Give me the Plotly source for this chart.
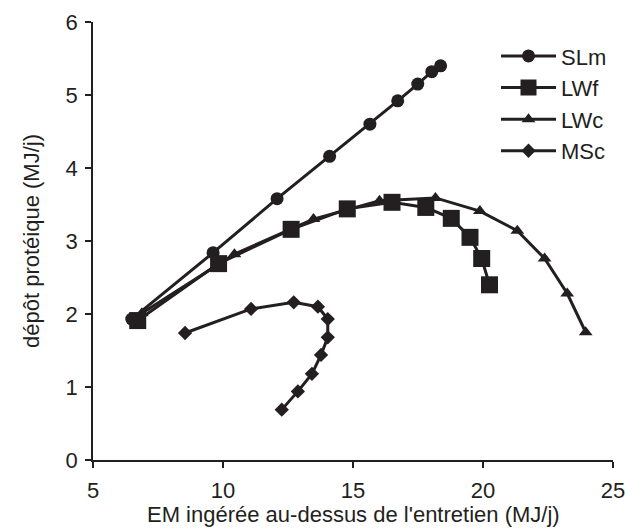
import plotly.graph_objects as go

# Data
slm_x = [6.49, 9.62, 12.08, 14.1, 15.65, 16.72, 17.49, 18.03, 18.37]
slm_y = [1.93, 2.84, 3.58, 4.16, 4.60, 4.92, 5.15, 5.32, 5.40]

lwf_x = [6.72, 9.83, 12.62, 14.78, 16.5, 17.8, 18.78, 19.5, 19.95, 20.25]
lwf_y = [1.91, 2.69, 3.16, 3.44, 3.53, 3.46, 3.31, 3.05, 2.76, 2.40]

lwc_x = [6.88, 10.44, 13.48, 16.02, 18.17, 19.88, 21.32, 22.37, 23.24, 23.95]
lwc_y = [2.01, 2.82, 3.30, 3.55, 3.59, 3.41, 3.14, 2.76, 2.28, 1.75]

msc_x = [8.54, 11.08, 12.72, 13.65, 14.03, 14.03, 13.77, 13.42, 12.88, 12.26]
msc_y = [1.74, 2.07, 2.16, 2.10, 1.93, 1.68, 1.44, 1.18, 0.94, 0.69]

series_names = ["SLm", "LWf", "LWc", "MSc"]

x_title = "EM ingérée au-dessus de l'entretien (MJ/j)"
y_title = "dépôt protéique (MJ/j)"

INK = "#231f20"
FONT = "Liberation Sans, Arial, sans-serif"
FS = 22

fig = go.Figure()
specs = [
    (slm_x, slm_y, "circle", 13),
    (lwf_x, lwf_y, "square", 17),
    (lwc_x, lwc_y, "triangle-up", 12),
    (msc_x, msc_y, "diamond", 11),
]
for name, (xs, ys, sym, sz) in zip(series_names, specs):
    fig.add_trace(go.Scatter(
        x=xs, y=ys, name=name, mode="lines+markers",
        legendgroup=name,
        line=dict(color=INK, width=3),
        marker=dict(symbol=sym, size=sz, color=INK, line=dict(width=0)),
    ))

axis_common = dict(
    showgrid=False, zeroline=False, showline=True, linecolor=INK, linewidth=1.8,
    ticks="outside", ticklen=6, tickwidth=1.8, tickcolor=INK,
    tickfont=dict(family=FONT, size=FS, color=INK),
    title_font=dict(family=FONT, size=FS, color=INK),
    ticklabeloverflow="allow", automargin=False,
)

fig.update_layout(
    width=625, height=529,
    margin=dict(l=93, r=12, t=22, b=69),
    paper_bgcolor="white", plot_bgcolor="white",
    font=dict(family=FONT, size=FS, color=INK),
    xaxis=dict(range=[5, 25], dtick=5, ticklabelstandoff=4, **axis_common),
    yaxis=dict(range=[0, 6], dtick=1, ticklabelstandoff=3,
               title=dict(text=y_title, standoff=20), **axis_common),
    showlegend=True,
    legend=dict(x=0.775, y=0.97, xanchor="left", yanchor="top",
                bgcolor="rgba(0,0,0,0)", itemwidth=55, tracegroupgap=0,
                font=dict(family=FONT, size=FS, color=INK)),
    annotations=[dict(text=x_title, xref="paper", yref="paper",
                      x=0.5, y=-0.124, xanchor="center", yanchor="middle",
                      showarrow=False, font=dict(family=FONT, size=FS, color=INK))],
)

fig.write_html("out.html", config={"displayModeBar": False},
               post_script="document.body.style.margin='0';")
